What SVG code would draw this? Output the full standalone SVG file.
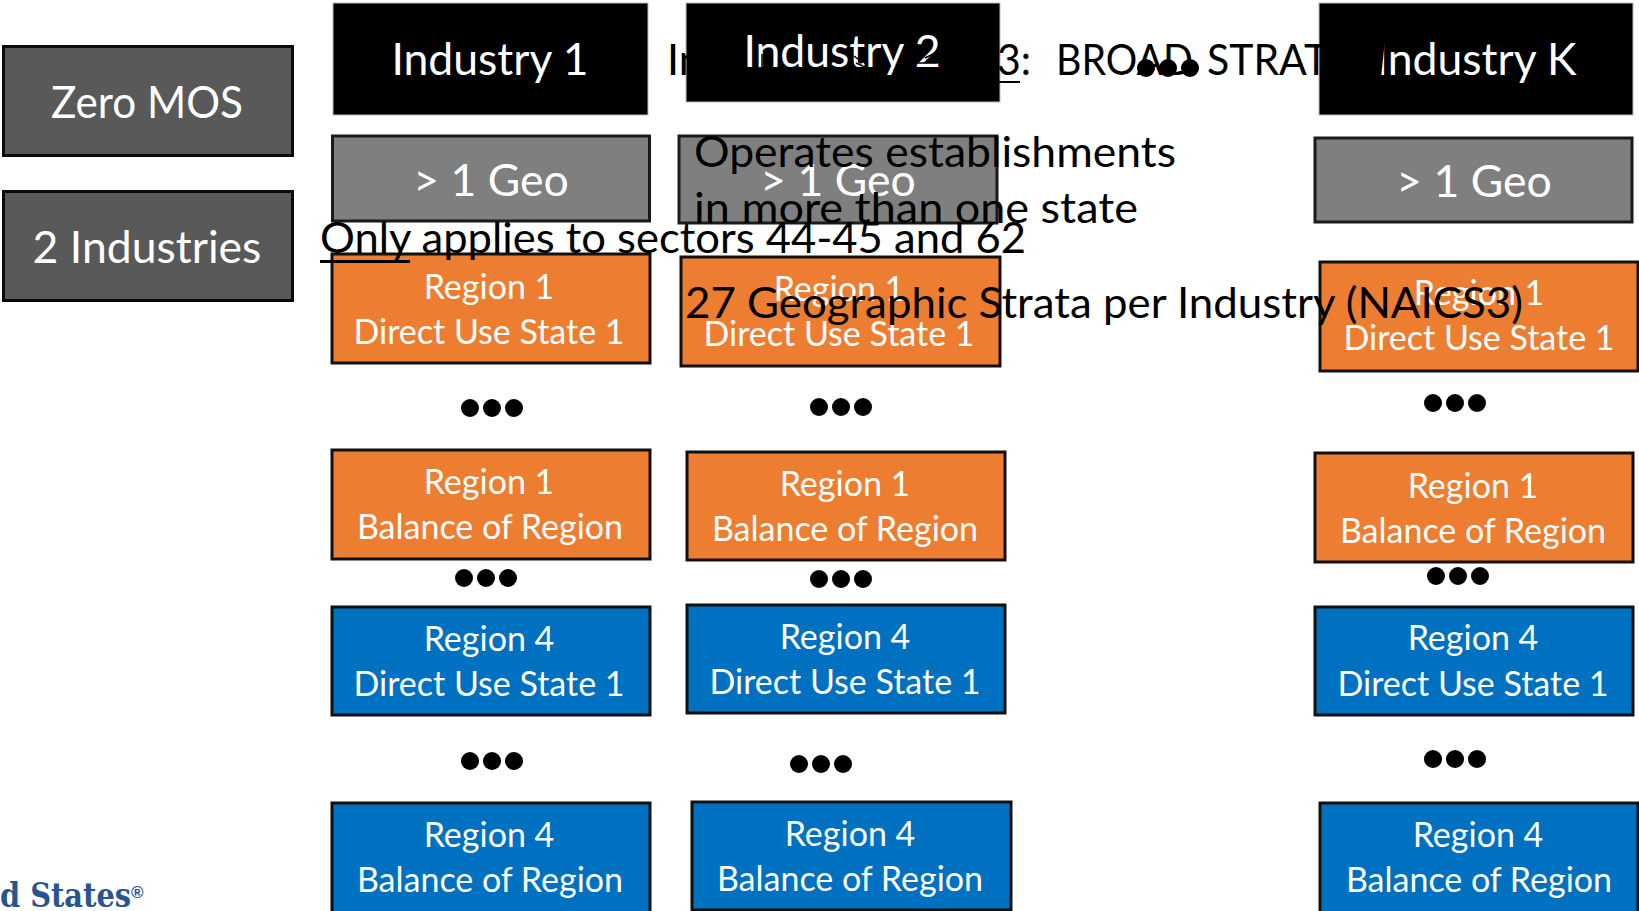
<svg xmlns="http://www.w3.org/2000/svg" width="1639" height="911" viewBox="0 0 1639 911">
<style>
text{font-family:"Lato","Open Sans","Liberation Sans",sans-serif;text-anchor:middle}
.w{fill:#fff}
.f38{font-size:44.500px}.f30{font-size:34px}
.t{text-anchor:start;font-size:43px;fill:#000}
.blk{fill:#000;stroke:#bbb;stroke-width:1}
.gry{fill:#7f7f7f;stroke:#1a1a1a;stroke-width:3}
.drk{fill:#595959;stroke:#0a0a0a;stroke-width:3}
.org{fill:#ed7d31;stroke:#111;stroke-width:3}
.blu{fill:#0070c0;stroke:#111;stroke-width:3}
</style>
<defs>
<g id="dots"><circle cx="-22" cy="0" r="9"/><circle cx="0" cy="0" r="9"/><circle cx="22" cy="0" r="9"/></g>
</defs>
<rect width="1639" height="911" fill="#fff"/>
<g id="logo"><text x="0" y="907" style="text-anchor:start;font-family:'DejaVu Serif',serif;font-weight:bold;font-size:34px;fill:#27558f" textLength="131" lengthAdjust="spacingAndGlyphs">d States</text><text x="131" y="898" style="text-anchor:start;font-family:'Liberation Sans',sans-serif;font-size:17px;font-weight:bold;fill:#27558f">®</text></g>
<g id="zero-mos"><rect class="drk" x="3.500" y="46.500" width="289" height="109"/><text class="w f38" x="147" y="118" textLength="192" lengthAdjust="spacingAndGlyphs">Zero MOS</text></g>
<g id="two-industries"><rect class="drk" x="3.500" y="191.500" width="289" height="109"/><text class="w f38" x="147" y="263">2 Industries</text></g>

<g id="industry-1"><rect class="blk" x="333" y="3" width="315" height="112"/><text class="w f38" x="490" y="75">Industry 1</text></g>
<g id="industry-2"><rect class="blk" x="686" y="3" width="314" height="99"/><text class="w f38" x="842" y="67">Industry 2</text><path d="M762 54V67M767 54V67M772 54V67M854 56L862 62M856 63L863 66M918 63H937M925 58L935 53" stroke="#000" stroke-width="1.500" fill="none"/></g>
<g id="industry-k"><rect class="blk" x="1319" y="3" width="314" height="112"/><text class="w f38" x="1476" y="75">Industry K</text><polygon points="1376,40 1385,40 1381,78 1376,78" fill="#000"/></g>

<g id="geo-1"><rect class="gry" x="332.500" y="136" width="317" height="85"/><text class="w f38" x="491" y="196">&gt; 1 Geo</text></g>
<g id="geo-2"><rect class="gry" x="679" y="136" width="318" height="87"/><text class="w f38" x="838" y="196">&gt; 1 Geo</text></g>
<g id="geo-k"><rect class="gry" x="1315" y="138" width="317" height="84"/><text class="w f38" x="1474" y="197">&gt; 1 Geo</text></g>

<g id="r1d-1"><rect class="org" x="332" y="254" width="318" height="109"/><text class="w f30" x="489" y="299">Region 1</text><text class="w f30" x="489" y="344">Direct Use State 1</text></g>
<g id="r1d-2"><rect class="org" x="681" y="257" width="319" height="109"/><text class="w f30" x="839" y="301">Region 1</text><text class="w f30" x="839" y="346">Direct Use State 1</text></g>
<g id="r1d-k"><rect class="org" x="1320" y="262" width="318" height="109"/><text class="w f30" x="1479" y="305">Region 1</text><text class="w f30" x="1479" y="350">Direct Use State 1</text></g>

<g id="r1b-1"><rect class="org" x="332" y="450" width="318" height="109"/><text class="w f30" x="489" y="494">Region 1</text><text class="w f30" x="490" y="539">Balance of Region</text></g>
<g id="r1b-2"><rect class="org" x="687" y="452" width="318" height="108"/><text class="w f30" x="845" y="496">Region 1</text><text class="w f30" x="845" y="541">Balance of Region</text></g>
<g id="r1b-k"><rect class="org" x="1315" y="453" width="318" height="109"/><text class="w f30" x="1473" y="498">Region 1</text><text class="w f30" x="1473" y="543">Balance of Region</text></g>

<g id="r4d-1"><rect class="blu" x="332" y="607" width="318" height="108"/><text class="w f30" x="489" y="651">Region 4</text><text class="w f30" x="489" y="696">Direct Use State 1</text></g>
<g id="r4d-2"><rect class="blu" x="687" y="605" width="318" height="108"/><text class="w f30" x="845" y="649">Region 4</text><text class="w f30" x="845" y="694">Direct Use State 1</text></g>
<g id="r4d-k"><rect class="blu" x="1315" y="607" width="318" height="108"/><text class="w f30" x="1473" y="650">Region 4</text><text class="w f30" x="1473" y="696">Direct Use State 1</text></g>

<g id="r4b-1"><rect class="blu" x="332" y="803" width="318" height="112"/><text class="w f30" x="489" y="847">Region 4</text><text class="w f30" x="490" y="892">Balance of Region</text></g>
<g id="r4b-2"><rect class="blu" x="692" y="802" width="319" height="108"/><text class="w f30" x="850" y="846">Region 4</text><text class="w f30" x="850" y="891">Balance of Region</text></g>
<g id="r4b-k"><rect class="blu" x="1320" y="803" width="318" height="112"/><text class="w f30" x="1478" y="847">Region 4</text><text class="w f30" x="1479" y="892">Balance of Region</text></g>

<g id="title">
<text class="t" x="667" y="75">In</text>
<text class="t" x="997" y="75" textLength="34" lengthAdjust="spacingAndGlyphs">3:</text>
<rect x="700" y="81" width="320" height="2" fill="#000"/>
<text class="t" x="1056" y="75" textLength="137" lengthAdjust="spacingAndGlyphs">BROAD</text>
<text class="t" x="1207" y="75" textLength="146" lengthAdjust="spacingAndGlyphs">STRATA</text>
</g>
<g id="dots-marks">
<use href="#dots" x="492" y="408"/><use href="#dots" x="841" y="407"/><use href="#dots" x="1455" y="403"/>
<use href="#dots" x="486" y="578"/><use href="#dots" x="841" y="579"/><use href="#dots" x="1458" y="576"/>
<use href="#dots" x="492" y="761"/><use href="#dots" x="821" y="764"/><use href="#dots" x="1455" y="759"/>
<use href="#dots" x="1168" y="68"/>
</g>
<g id="notes">
<text class="t" x="694" y="167" textLength="482" lengthAdjust="spacingAndGlyphs">Operates establishments</text>
<text class="t" x="694" y="223" textLength="444" lengthAdjust="spacingAndGlyphs">in more than one state</text>
<text class="t" x="320" y="253" textLength="706" lengthAdjust="spacingAndGlyphs">Only applies to sectors 44-45 and 62</text>
<rect x="320" y="260" width="90" height="3" fill="#000"/>
<text class="t" x="685" y="318" textLength="838" lengthAdjust="spacingAndGlyphs">27 Geographic Strata per Industry (NAICS3)</text>
</g>
</svg>
